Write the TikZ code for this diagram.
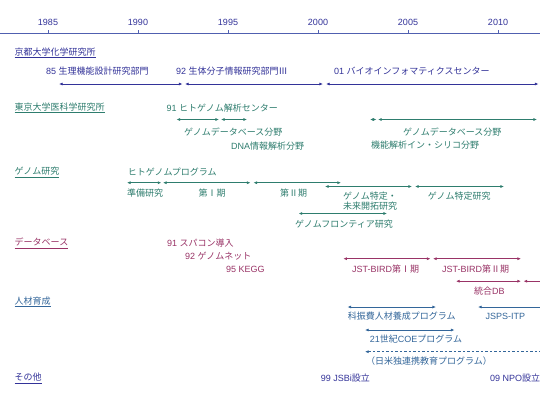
\documentclass[tikz,border=0pt]{standalone}
\usepackage{fontspec}
\setmainfont{Noto Sans CJK JP}
\newfontfamily\lat{Liberation Sans}
\usetikzlibrary{arrows.meta}
\definecolor{navy}{HTML}{333399}
\definecolor{tealc}{HTML}{2E7D6E}
\definecolor{maroonc}{HTML}{993366}
\definecolor{steel}{HTML}{33669A}
\definecolor{axisblue}{HTML}{5060B0}
\newcommand\tspan[6][]{%
  \coordinate (#2-l) at (#3,#5);
  \coordinate (#2-r) at (#4,#5);
  \draw[spanline,#6,#1] (#2-l) -- (#2-r);}
\begin{document}
\begin{tikzpicture}[x=1pt,y=-1pt,
  spanline/.style={line width=0.7pt,{Latex[length=3.6pt,width=3pt]}-{Latex[length=3.6pt,width=3pt]}},
  lefthead/.style={{Latex[length=3.6pt,width=3pt]}-},
  lbl/.style={inner sep=0pt,anchor=west,font=\fontsize{9}{11}\selectfont},
  clbl/.style={inner sep=0pt,anchor=center,font=\fontsize{9}{11}\selectfont},
  ttl/.style={lbl}]
\fill[white] (0,0) rectangle (540,405);
\useasboundingbox (0,0) rectangle (540,405);
% axis
\coordinate (axL) at (0,33.3);
\coordinate (axR) at (540,33.3);
\draw[axisblue,line width=0.8pt] (axL) -- (axR);
\foreach \yr/\xx in {1985/48,1990/138,1995/228,2000/318,2005/408,2010/498}{
  \coordinate (t\yr) at (\xx,33.3);
  \draw[axisblue,line width=0.8pt] (t\yr) -- ++(0,-3.5);
  \node[clbl,text=navy] (y\yr) at (\xx,22.5) {\lat\yr};
}
% section 1
\node[ttl,text=navy] (s1) at (14.5,53) {\underline{京都大学化学研究所}};
\node[lbl,text=navy] (k85) at (46,71) {{\lat 85 }生理機能設計研究部門};
\node[lbl,text=navy] (k92) at (176,71) {{\lat 92 }生体分子情報研究部門Ⅲ};
\node[lbl,text=navy] (k01) at (334,71) {{\lat 01 }バイオインフォマティクスセンター};
\tspan{a1}{59}{182.5}{84}{navy}
\tspan{a2}{185}{323}{84}{navy}
\tspan{a3}{326}{538.5}{84}{navy}
% section 2
\node[ttl,text=tealc] (s2) at (14.5,108) {\underline{東京大学医科学研究所}};
\node[lbl,text=tealc] (h91) at (166.5,108) {{\lat 91 }ヒトゲノム解析センター};
\tspan{b1}{176.5}{219}{119.5}{tealc}
\tspan{b2}{221}{247}{119.5}{tealc}
\tspan{b3}{370}{376.5}{119.5}{tealc}
\tspan{b4}{378}{537}{119.5}{tealc}
\node[lbl,text=tealc] (gdb1) at (184,132) {ゲノムデータベース分野};
\node[lbl,text=tealc] (dna) at (231,146.5) {{\lat DNA}情報解析分野};
\node[lbl,text=tealc] (gdb2) at (403,132.5) {ゲノムデータベース分野};
\node[lbl,text=tealc] (insil) at (371,145.5) {機能解析イン・シリコ分野};
% section 3
\node[ttl,text=tealc] (s3) at (14.5,172.3) {\underline{ゲノム研究}};
\node[lbl,text=tealc] (hgp) at (127.6,172.3) {ヒトゲノムプログラム};
\tspan{c1}{127}{161.4}{182.7}{tealc}
\tspan{c2}{163}{250.5}{182.7}{tealc}
\tspan{c3}{253.4}{341}{182.7}{tealc}
\tspan{c4}{325}{412}{186.5}{tealc}
\tspan{c5}{415}{504}{186.5}{tealc}
\node[lbl,text=tealc] (junbi) at (127,193.3) {準備研究};
\node[clbl,text=tealc] (ki1) at (212,193) {第Ⅰ期};
\node[clbl,text=tealc] (ki2) at (293.5,193) {第Ⅱ期};
\node[clbl,text=tealc] (tok1) at (370,196) {ゲノム特定・};
\node[clbl,text=tealc] (tok2) at (370,206.5) {未来開拓研究};
\node[lbl,text=tealc] (tok3) at (427.6,196.5) {ゲノム特定研究};
\tspan{c6}{298.6}{387}{213.5}{tealc}
\node[lbl,text=tealc] (front) at (295,224.5) {ゲノムフロンティア研究};
% section 4
\node[ttl,text=maroonc] (s4) at (14.5,243.3) {\underline{データベース}};
\node[lbl,text=maroonc] (d91) at (167,243.3) {{\lat 91 }スパコン導入};
\node[lbl,text=maroonc] (d92) at (185,255.7) {{\lat 92 }ゲノムネット};
\node[lbl,text=maroonc] (d95) at (226,269.3) {\lat 95 KEGG};
\tspan{e1}{343.3}{430.5}{258.7}{maroonc}
\tspan{e2}{433}{521}{258.7}{maroonc}
\node[lbl,text=maroonc] (jst1) at (352,269.5) {{\lat JST-BIRD}第Ⅰ期};
\node[lbl,text=maroonc] (jst2) at (442,269.5) {{\lat JST-BIRD}第Ⅱ期};
\tspan{e3}{456}{521}{281.2}{maroonc}
\coordinate (e4-l) at (523.5,281.2);
\coordinate (e4-r) at (540,281.2);
\draw[line width=0.7pt,maroonc,lefthead] (e4-l) -- (e4-r);
\node[lbl,text=maroonc] (togo) at (474,291) {統合{\lat DB}};
% section 5
\node[ttl,text=steel] (s5) at (14.5,301.7) {\underline{人材育成}};
\tspan{f1}{347.5}{436}{307}{steel}
\coordinate (f2-l) at (478,307);
\coordinate (f2-r) at (540,307);
\draw[line width=0.7pt,steel,lefthead] (f2-l) -- (f2-r);
\node[lbl,text=steel] (kashin) at (347.6,316) {科振費人材養成プログラム};
\node[lbl,text=steel] (jsps) at (485.5,316) {\lat JSPS-ITP};
\tspan{f3}{365}{454.5}{330}{steel}
\node[lbl,text=steel] (coe) at (369.7,339) {{\lat 21}世紀{\lat COE}プログラム};
\coordinate (f4-l) at (365,351.7);
\coordinate (f4-r) at (540,351.7);
\draw[line width=0.7pt,steel,lefthead,dash pattern=on 2.5pt off 2pt] (f4-l) -- (f4-r);
\node[lbl,text=steel] (nichibei) at (366,361) {（日米独連携教育プログラム）};
% section 6
\node[ttl,text=navy] (s6) at (14.5,378.3) {\underline{その他}};
\node[lbl,text=navy] (jsbi) at (320.7,378) {{\lat 99 JSBi}設立};
\node[lbl,text=navy] (npo) at (490,378) {{\lat 09 NPO}設立};
\end{tikzpicture}
\end{document}
